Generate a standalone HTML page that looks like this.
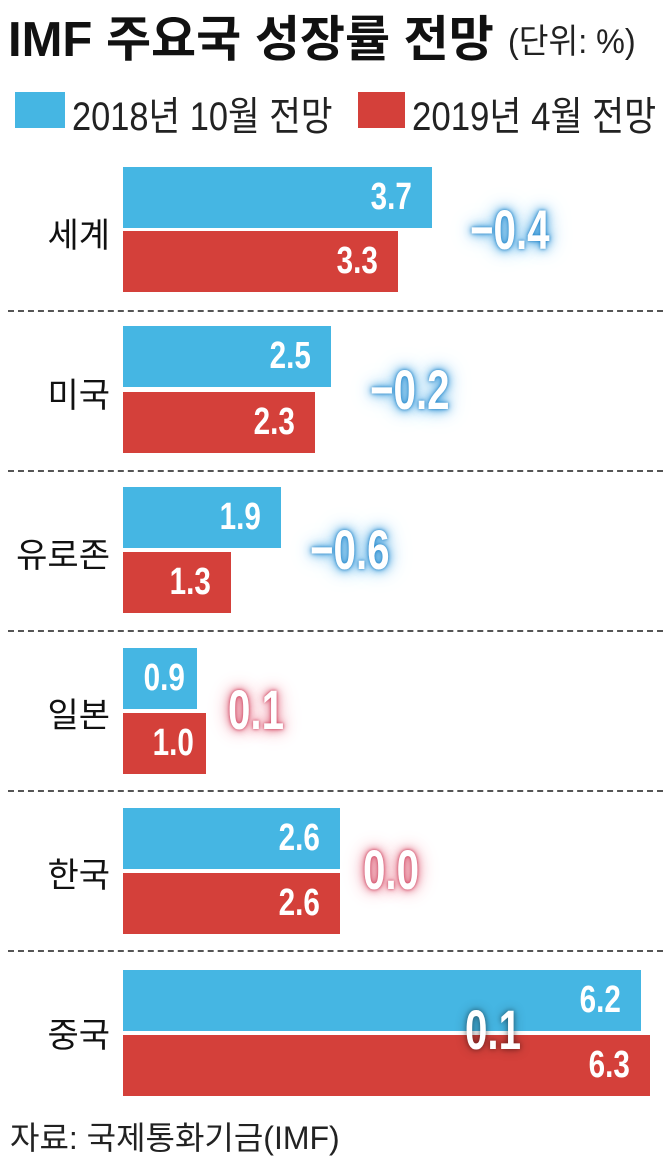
<!DOCTYPE html>
<html><head><meta charset="utf-8"><style>
body{margin:0;width:669px;height:1157px;background:#fff;position:relative;overflow:hidden;font-family:"Liberation Sans","Noto Sans CJK KR",sans-serif;}
.a{position:absolute;white-space:nowrap}
.b{position:absolute;left:123px;height:61px}
.bl{background:#45b6e3}.rd{background:#d4403a}
.v{position:absolute;right:20px;top:8px;line-height:44px;color:#fff;font-weight:bold;font-size:38px;transform:scaleX(.78);transform-origin:right}
.c{position:absolute;font-size:34px;color:#111;right:559px;width:120px;text-align:right}
.d{position:absolute;left:8px;width:655px;border-top:2px dashed #555}
.g{position:absolute;font-size:56px;line-height:60px;font-weight:bold;color:#fff;transform:scaleX(.72);transform-origin:left;}
.gb{text-shadow:0 0 4px #1d7fc4,0 0 10px #2f93d6,0 0 18px #6ab8e8,0 0 28px #a9d6f2}
.gr{text-shadow:0 0 4px #c93a58,0 0 10px #dc6077,0 0 18px #ec98a8,0 0 28px #f5c4cd}
</style></head><body>
<div class="a" style="left:8px;top:0px;font-size:49px;font-weight:bold;color:#111">IMF 주요국 성장률 전망</div>
<div class="a" style="left:508px;top:14px;font-size:34px;color:#222;transform:scaleX(.95);transform-origin:left">(단위: %)</div>
<div class="a bl" style="left:15px;top:92px;width:50px;height:36px"></div>
<div class="a" style="left:72px;top:84px;font-size:40px;color:#222;transform:scaleX(.86);transform-origin:left">2018년 10월 전망</div>
<div class="a rd" style="left:358px;top:92px;width:47px;height:36px"></div>
<div class="a" style="left:412px;top:84px;font-size:40px;color:#222;transform:scaleX(.87);transform-origin:left">2019년 4월 전망</div>

<div class="b bl" style="top:167px;width:309px"><span class="v">3.7</span></div>
<div class="b rd" style="top:231px;width:275px"><span class="v">3.3</span></div>
<div class="c" style="top:208px">세계</div>
<div class="g gb" style="left:470px;top:200px">−0.4</div>
<div class="d" style="top:310px"></div>

<div class="b bl" style="top:326px;width:208px"><span class="v">2.5</span></div>
<div class="b rd" style="top:392px;width:192px"><span class="v">2.3</span></div>
<div class="c" style="top:368px">미국</div>
<div class="g gb" style="left:370px;top:360px">−0.2</div>
<div class="d" style="top:470px"></div>

<div class="b bl" style="top:487px;width:158px"><span class="v">1.9</span></div>
<div class="b rd" style="top:552px;width:108px"><span class="v">1.3</span></div>
<div class="c" style="top:528px">유로존</div>
<div class="g gb" style="left:310px;top:520px">−0.6</div>
<div class="d" style="top:630px"></div>

<div class="b bl" style="top:648px;width:74px"><span class="v" style="right:12px">0.9</span></div>
<div class="b rd" style="top:713px;width:83px"><span class="v" style="right:12px">1.0</span></div>
<div class="c" style="top:688px">일본</div>
<div class="g gr" style="left:228px;top:680px">0.1</div>
<div class="d" style="top:790px"></div>

<div class="b bl" style="top:808px;width:217px"><span class="v">2.6</span></div>
<div class="b rd" style="top:873px;width:217px"><span class="v">2.6</span></div>
<div class="c" style="top:848px">한국</div>
<div class="g gr" style="left:363px;top:840px">0.0</div>
<div class="d" style="top:950px"></div>

<div class="b bl" style="top:970px;width:518px"><span class="v">6.2</span></div>
<div class="b rd" style="top:1035px;width:527px"><span class="v">6.3</span></div>
<div class="c" style="top:1008px">중국</div>
<div class="g" style="left:465px;top:1000px;text-shadow:0 0 6px rgba(0,0,0,.45),0 0 14px rgba(0,0,0,.3)">0.1</div>

<div class="a" style="left:10px;top:1113px;font-size:32px;color:#222">자료: 국제통화기금(IMF)</div>
</body></html>
